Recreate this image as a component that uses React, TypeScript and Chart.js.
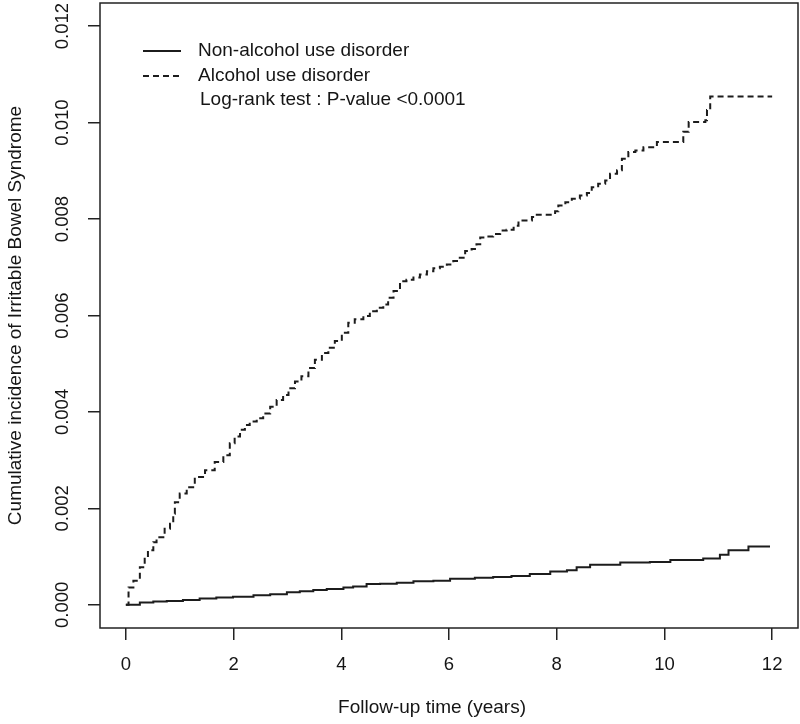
import React, { useEffect, useRef } from "react";
import { Chart, registerables } from "chart.js";

Chart.register(...registerables);

// ---- data ----
const xTicks = [0, 2, 4, 6, 8, 10, 12];
const yTicks = [0, 0.002, 0.004, 0.006, 0.008, 0.01, 0.012];
const yTickLabels = ["0.000", "0.002", "0.004", "0.006", "0.008", "0.010", "0.012"];

const seriesNames = ["Non-alcohol use disorder", "Alcohol use disorder"];
const testText = "Log-rank test : P-value <0.0001";
const xTitle = "Follow-up time (years)";
const yTitle = "Cumulative incidence of Irritable Bowel Syndrome";

const nonAlcoholTimes = [
  0, 0.26, 0.51, 0.76, 1.06, 1.37, 1.68, 1.99, 2.37, 2.68, 2.99, 3.23, 3.48,
  3.73, 4.04, 4.22, 4.47, 4.72, 5.03, 5.34, 5.71, 6.02, 6.48, 6.82, 7.16, 7.5,
  7.88, 8.19, 8.37, 8.62, 9.18, 9.73, 10.11, 10.72, 11.03, 11.19, 11.56, 11.96,
];
const nonAlcoholValues = [
  0, 0.00005, 0.00007, 0.00008, 0.0001, 0.00013, 0.00015, 0.00017, 0.0002,
  0.00022, 0.00026, 0.00028, 0.00031, 0.00033, 0.00036, 0.00038, 0.00043,
  0.00044, 0.00046, 0.00049, 0.0005, 0.00054, 0.00056, 0.00058, 0.0006,
  0.00064, 0.00069, 0.00072, 0.00078, 0.00083, 0.00088, 0.00089, 0.00093,
  0.00096, 0.00104, 0.00113, 0.00121, 0.00121,
];

const alcoholTimes = [
  0, 0.05, 0.14, 0.26, 0.35, 0.41, 0.51, 0.57, 0.72, 0.82, 0.88, 0.91, 1.0,
  1.13, 1.28, 1.47, 1.65, 1.81, 1.93, 2.02, 2.12, 2.21, 2.3, 2.43, 2.55, 2.68,
  2.8, 2.92, 3.02, 3.14, 3.26, 3.39, 3.51, 3.64, 3.76, 3.88, 4.01, 4.13, 4.25,
  4.41, 4.53, 4.66, 4.78, 4.87, 4.97, 5.09, 5.21, 5.34, 5.46, 5.59, 5.71,
  5.83, 5.96, 6.08, 6.2, 6.3, 6.42, 6.51, 6.58, 6.7, 6.82, 6.95, 7.07, 7.2,
  7.29, 7.54, 7.63, 7.97, 8.03, 8.16, 8.28, 8.43, 8.56, 8.65, 8.77, 8.9, 8.99,
  9.12, 9.21, 9.33, 9.46, 9.61, 9.86, 10.35, 10.45, 10.76, 10.79, 10.85, 12.0,
];
const alcoholValues = [
  0, 0.00036, 0.0005, 0.00078, 0.00099, 0.00113, 0.0013, 0.0014, 0.00158,
  0.00168, 0.00189, 0.00213, 0.00231, 0.00244, 0.00265, 0.00279, 0.00296,
  0.0031, 0.00335, 0.00349, 0.00363, 0.00373, 0.0038, 0.00387, 0.00397,
  0.00411, 0.00425, 0.00435, 0.00449, 0.00463, 0.00474, 0.00491, 0.00508,
  0.00522, 0.00533, 0.00547, 0.00564, 0.00585, 0.00592, 0.00599, 0.00609,
  0.00616, 0.00623, 0.00637, 0.00651, 0.00671, 0.00674, 0.00679, 0.00685,
  0.00692, 0.00698, 0.00701, 0.00706, 0.00713, 0.0072, 0.00734, 0.00738,
  0.00748, 0.00762, 0.00764, 0.00769, 0.00776, 0.00778, 0.00786, 0.00797,
  0.00804, 0.00809, 0.00816, 0.00828, 0.00835, 0.00842, 0.00849, 0.00854,
  0.00866, 0.00873, 0.0088, 0.00894, 0.00901, 0.00925, 0.00939, 0.00942,
  0.00949, 0.0096, 0.00981, 0.01001, 0.01005, 0.01026, 0.01054, 0.01054,
];

const FONT = '"Liberation Sans", Arial, Helvetica, sans-serif';
const INK = "#151515";

const decorPlugin = {
  id: "decor",
  afterDraw(chart: any) {
    const { ctx, chartArea: a, scales } = chart;
    ctx.save();
    // plot box
    ctx.strokeStyle = "#222";
    ctx.lineWidth = 1.5;
    ctx.strokeRect(a.left, a.top, a.right - a.left, a.bottom - a.top);

    // rotated y tick labels
    ctx.fillStyle = INK;
    ctx.font = `18.5px ${FONT}`;
    ctx.textAlign = "center";
    ctx.textBaseline = "middle";
    yTicks.forEach((v, i) => {
      const y = scales.y.getPixelForValue(v);
      ctx.save();
      ctx.translate(a.left - 37, y);
      ctx.rotate(-Math.PI / 2);
      ctx.fillText(yTickLabels[i], 0, 0);
      ctx.restore();
    });

    // x axis title
    ctx.font = `19px ${FONT}`;
    ctx.fillText(xTitle, 432, 708);

    // legend
    const lx0 = a.left + 43;
    const lx1 = a.left + 81;
    const rows = [a.top + 48, a.top + 73];
    const ds = chart.data.datasets;
    rows.forEach((ry, i) => {
      ctx.beginPath();
      ctx.strokeStyle = ds[i].borderColor;
      ctx.lineWidth = 2;
      ctx.setLineDash(ds[i].borderDash || []);
      ctx.moveTo(lx0, ry);
      ctx.lineTo(lx1, ry);
      ctx.stroke();
    });
    ctx.setLineDash([]);
    ctx.textAlign = "left";
    ctx.fillStyle = INK;
    ctx.fillText(seriesNames[0], a.left + 98, rows[0]);
    ctx.fillText(seriesNames[1], a.left + 98, rows[1]);
    ctx.fillText(testText, a.left + 100, a.top + 97);
    ctx.restore();
  },
};

export default function App() {
  const ref = useRef<HTMLCanvasElement | null>(null);

  useEffect(() => {
    document.body.style.margin = "0";
    const canvas = ref.current;
    if (!canvas) return;
    const chart = new Chart(canvas, {
      type: "line",
      data: {
        datasets: [
          {
            label: seriesNames[0],
            data: nonAlcoholTimes.map((t, i) => ({ x: t, y: nonAlcoholValues[i] })),
            borderColor: "#1c1c1c",
            borderWidth: 2,
            stepped: true,
            pointRadius: 0,
            fill: false,
          },
          {
            label: seriesNames[1],
            data: alcoholTimes.map((t, i) => ({ x: t, y: alcoholValues[i] })),
            borderColor: "#1c1c1c",
            borderWidth: 2,
            borderDash: [6, 4],
            stepped: true,
            pointRadius: 0,
            fill: false,
          },
        ],
      },
      options: {
        responsive: false,
        animation: false,
        layout: { padding: { left: 0, right: 2, top: 3, bottom: 34 } },
        plugins: { legend: { display: false }, tooltip: { enabled: false } },
        scales: {
          x: {
            type: "linear",
            min: -0.48,
            max: 12.48,
            afterBuildTicks: (s: any) => {
              s.ticks = xTicks.map((v) => ({ value: v }));
            },
            grid: {
              display: true,
              drawOnChartArea: false,
              drawTicks: true,
              tickLength: 12,
              color: "#222",
              lineWidth: 1.5,
            },
            border: { display: false },
            ticks: {
              padding: 13.9,
              color: INK,
              font: { family: FONT, size: 18.5 },
              maxRotation: 0,
              minRotation: 0,
              autoSkip: false,
              callback: (v: any) => String(v),
            },
          },
          y: {
            type: "linear",
            min: -0.00048,
            max: 0.01248,
            afterBuildTicks: (s: any) => {
              s.ticks = yTicks.map((v) => ({ value: v }));
            },
            grid: {
              display: true,
              drawOnChartArea: false,
              drawTicks: true,
              tickLength: 12,
              color: "#222",
              lineWidth: 1.5,
            },
            border: { display: false },
            ticks: { display: false },
            title: {
              display: true,
              text: yTitle,
              color: INK,
              font: { family: FONT, size: 19 },
              padding: { top: 4.6, bottom: 60.6 },
            },
          },
        },
      },
      plugins: [decorPlugin],
    } as any);
    return () => chart.destroy();
  }, []);

  return (
    <div style={{ width: 800, height: 724 }}>
      <canvas ref={ref} width={800} height={724} />
    </div>
  );
}
